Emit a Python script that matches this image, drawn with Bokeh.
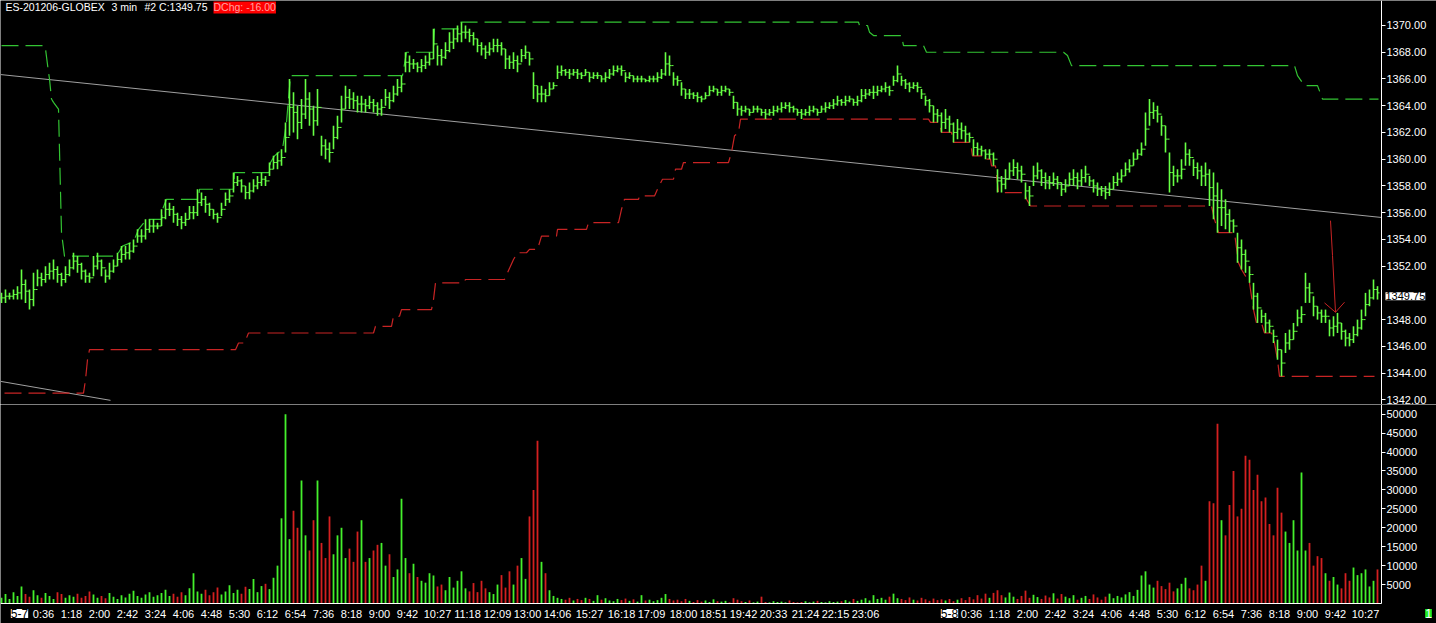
from bokeh.plotting import figure
from bokeh.layouts import column
from bokeh.models import ColumnDataSource, FixedTicker, Label, Range1d, NumeralTickFormatter
from bokeh.embed import file_html
from bokeh.resources import INLINE

# ---------------- data ----------------
# one sample for every second 3-minute bar
bar_index = list(range(0, 690, 2))

bar_high = [
    1350.0, 1350.25, 1350.0, 1350.25, 1350.5, 1351.75, 1351.0, 1350.25, 1351.5, 1351.75,
    1351.5, 1352.0, 1352.25, 1352.5, 1352.0, 1351.5, 1352.0, 1352.5, 1353.0, 1352.75,
    1352.25, 1351.75, 1351.5, 1352.75, 1353.0, 1352.5, 1351.75, 1352.25, 1352.5, 1353.0,
    1353.5, 1353.5, 1353.75, 1354.0, 1354.75, 1354.75, 1355.5, 1355.5, 1355.5, 1355.25,
    1356.25, 1357.0, 1356.75, 1356.5, 1356.0, 1355.75, 1356.0, 1356.5, 1356.5, 1357.75,
    1357.5, 1357.25, 1356.75, 1356.25, 1356.0, 1356.75, 1357.5, 1357.75, 1359.0, 1358.75,
    1358.5, 1358.0, 1358.25, 1358.5, 1358.75, 1359.0, 1358.75, 1359.75, 1360.25, 1360.5,
    1360.75, 1362.75, 1366.0, 1365.0, 1364.0, 1364.5, 1366.0, 1365.0, 1364.0, 1365.25,
    1361.75, 1361.5, 1361.25, 1362.5, 1363.25, 1364.75, 1365.5, 1365.25, 1365.0, 1364.75,
    1364.75, 1364.5, 1364.75, 1364.5, 1364.25, 1364.5, 1365.25, 1365.0, 1365.5, 1366.0,
    1366.25, 1368.0, 1367.75, 1367.5, 1367.25, 1367.5, 1367.75, 1368.0, 1369.75, 1368.5,
    1368.25, 1368.75, 1369.5, 1369.75, 1370.0, 1370.25, 1370.0, 1369.75, 1369.5, 1369.0,
    1368.75, 1368.5, 1368.75, 1369.0, 1369.0, 1368.75, 1368.25, 1367.75, 1368.0, 1367.75,
    1368.25, 1368.5, 1368.0, 1366.5, 1365.5, 1365.5, 1365.25, 1365.75, 1365.75, 1367.0,
    1367.0, 1366.75, 1366.75, 1366.75, 1366.75, 1366.5, 1366.75, 1366.5, 1366.5, 1366.5,
    1366.25, 1366.5, 1366.75, 1367.0, 1367.0, 1367.0, 1366.5, 1366.5, 1366.25, 1366.25,
    1366.25, 1366.0, 1366.25, 1366.25, 1366.5, 1366.75, 1368.0, 1367.75, 1366.5, 1366.25,
    1365.75, 1365.25, 1365.25, 1365.0, 1365.0, 1364.75, 1365.0, 1365.5, 1365.5, 1365.25,
    1365.5, 1365.5, 1365.25, 1364.75, 1364.25, 1364.0, 1364.0, 1363.75, 1364.0, 1364.0,
    1363.75, 1363.75, 1363.75, 1364.0, 1364.0, 1364.25, 1364.25, 1364.25, 1364.0, 1363.75,
    1363.75, 1363.75, 1364.0, 1364.0, 1363.75, 1364.0, 1364.25, 1364.25, 1364.5, 1364.75,
    1364.5, 1364.75, 1364.75, 1364.5, 1364.75, 1365.25, 1365.25, 1365.25, 1365.5, 1365.5,
    1365.5, 1365.75, 1365.5, 1366.25, 1367.0, 1366.25, 1366.0, 1365.75, 1365.75, 1365.75,
    1365.25, 1364.75, 1364.5, 1364.0, 1363.75, 1363.5, 1363.75, 1363.25, 1362.75, 1363.0,
    1362.75, 1362.5, 1362.0, 1361.5, 1361.25, 1361.0, 1360.75, 1360.75, 1360.5, 1359.25,
    1358.75, 1359.25, 1359.75, 1360.0, 1359.75, 1359.5, 1358.25, 1358.0, 1359.5, 1359.75,
    1359.25, 1359.0, 1358.75, 1359.0, 1358.75, 1358.25, 1358.5, 1359.0, 1359.25, 1359.0,
    1359.25, 1359.5, 1358.75, 1358.5, 1358.25, 1358.0, 1358.0, 1358.25, 1358.75, 1359.0,
    1359.25, 1359.75, 1360.0, 1360.5, 1360.75, 1361.25, 1363.5, 1364.5, 1364.25, 1364.0,
    1363.25, 1362.5, 1360.5, 1359.5, 1359.25, 1360.0, 1361.25, 1360.75, 1360.0, 1359.75,
    1359.5, 1359.75, 1359.25, 1359.0, 1358.25, 1357.75, 1357.0, 1356.25, 1355.5, 1354.5,
    1354.0, 1353.25, 1352.0, 1350.75, 1350.0, 1348.75, 1348.5, 1348.0, 1347.25, 1346.5,
    1345.75, 1347.0, 1347.25, 1347.75, 1348.75, 1349.0, 1351.5, 1350.75, 1349.75, 1349.0,
    1348.75, 1348.75, 1348.0, 1348.25, 1348.5, 1347.75, 1347.25, 1347.0, 1347.5, 1348.0,
    1348.75, 1350.0, 1350.25, 1351.0, 1350.5,
]

bar_low = [
    1349.25, 1349.25, 1349.5, 1349.5, 1349.5, 1349.5, 1349.25, 1348.75, 1349.0, 1350.5,
    1350.5, 1350.75, 1351.0, 1351.0, 1350.75, 1350.5, 1350.75, 1351.25, 1351.75, 1351.5,
    1351.0, 1350.75, 1350.75, 1351.25, 1351.75, 1351.25, 1350.75, 1351.0, 1351.5, 1352.0,
    1352.25, 1352.5, 1352.5, 1353.0, 1353.75, 1353.75, 1354.0, 1354.5, 1354.5, 1354.75,
    1355.0, 1355.5, 1355.75, 1355.25, 1355.0, 1354.75, 1355.0, 1355.5, 1355.5, 1355.75,
    1356.5, 1356.0, 1355.75, 1355.5, 1355.25, 1355.75, 1356.5, 1356.75, 1357.5, 1358.0,
    1357.5, 1357.0, 1357.0, 1357.5, 1357.75, 1358.0, 1358.0, 1358.75, 1359.25, 1359.25,
    1359.5, 1360.5, 1361.75, 1362.0, 1361.5, 1362.25, 1363.0, 1362.5, 1361.75, 1362.5,
    1360.25, 1360.0, 1359.75, 1360.75, 1361.5, 1362.75, 1363.75, 1363.75, 1363.75, 1363.5,
    1363.5, 1363.5, 1363.75, 1363.5, 1363.25, 1363.25, 1364.0, 1363.75, 1364.25, 1364.75,
    1365.0, 1366.5, 1366.5, 1366.75, 1366.5, 1366.5, 1366.75, 1367.0, 1367.5, 1367.0,
    1367.0, 1367.5, 1368.0, 1368.25, 1368.75, 1368.75, 1369.0, 1368.75, 1368.5, 1368.0,
    1367.75, 1367.5, 1367.75, 1368.0, 1368.0, 1367.75, 1366.75, 1366.75, 1366.75, 1366.5,
    1367.25, 1367.5, 1367.0, 1364.5, 1364.25, 1364.25, 1364.25, 1364.75, 1365.25, 1366.0,
    1366.25, 1366.25, 1366.0, 1366.25, 1366.0, 1366.0, 1366.25, 1365.75, 1366.0, 1366.0,
    1365.75, 1365.75, 1366.0, 1366.25, 1366.5, 1366.25, 1365.75, 1366.0, 1365.75, 1365.75,
    1365.75, 1365.75, 1365.75, 1365.75, 1365.75, 1366.0, 1366.25, 1366.25, 1365.5, 1365.5,
    1364.75, 1364.5, 1364.5, 1364.5, 1364.25, 1364.25, 1364.5, 1364.75, 1365.0, 1364.75,
    1364.75, 1365.0, 1364.75, 1363.75, 1363.25, 1363.25, 1363.5, 1363.25, 1363.5, 1363.5,
    1363.25, 1363.0, 1363.25, 1363.25, 1363.5, 1363.5, 1363.75, 1363.5, 1363.5, 1363.25,
    1363.0, 1363.25, 1363.25, 1363.5, 1363.25, 1363.5, 1363.5, 1363.75, 1363.75, 1364.0,
    1364.0, 1364.0, 1364.25, 1364.0, 1364.0, 1364.25, 1364.5, 1364.75, 1364.5, 1364.75,
    1365.0, 1365.0, 1364.75, 1365.5, 1365.75, 1365.5, 1365.25, 1365.0, 1365.25, 1365.0,
    1364.5, 1364.0, 1363.5, 1362.75, 1362.75, 1362.0, 1362.25, 1362.0, 1361.25, 1361.5,
    1361.5, 1361.25, 1361.25, 1360.25, 1360.25, 1360.25, 1360.0, 1360.0, 1359.5, 1357.5,
    1357.5, 1357.75, 1358.5, 1358.75, 1358.5, 1358.25, 1357.0, 1356.5, 1358.0, 1358.5,
    1358.0, 1357.75, 1357.75, 1358.0, 1357.75, 1357.25, 1357.5, 1358.0, 1358.0, 1357.75,
    1358.0, 1358.25, 1358.0, 1357.5, 1357.25, 1357.25, 1357.0, 1357.25, 1357.75, 1358.0,
    1358.25, 1358.75, 1359.0, 1359.5, 1360.0, 1360.25, 1361.0, 1362.5, 1363.0, 1362.75,
    1361.75, 1360.5, 1357.5, 1358.0, 1358.25, 1358.5, 1359.5, 1359.5, 1358.75, 1358.5,
    1358.0, 1358.0, 1356.5, 1355.5, 1354.5, 1355.0, 1354.75, 1354.5, 1354.5, 1352.25,
    1351.75, 1351.5, 1350.75, 1348.75, 1347.75, 1347.75, 1347.0, 1347.0, 1346.25, 1345.0,
    1343.75, 1345.5, 1345.75, 1346.5, 1347.5, 1347.75, 1349.25, 1349.25, 1348.25, 1348.0,
    1347.75, 1347.75, 1346.75, 1346.75, 1347.0, 1346.5, 1346.0, 1346.0, 1346.25, 1346.75,
    1347.25, 1348.25, 1349.0, 1349.5, 1349.5,
]

bar_volume = [
    1500, 2500, 1200, 3000, 2000, 4500, 2500, 1800, 3500, 2200,
    1500, 2800, 2000, 1200, 3000, 2500, 1500, 2200, 1800, 2600,
    1500, 2000, 3200, 2400, 1500, 2000, 1400, 2800, 1800, 1200,
    2200, 1600, 2600, 3400, 2000, 1500, 2400, 3000, 1800, 2200,
    2800, 3600, 2000, 2600, 1800, 3000, 2200, 4000, 8000, 3200,
    2600, 3600, 2200, 3000, 4200, 2400, 3200, 4800, 2800, 3600,
    2600, 4400, 3800, 6500, 3000, 4600, 5200, 3800, 6800, 10000,
    22500, 50000, 17000, 24500, 20000, 32500, 18000, 14000, 22000, 32500,
    16000, 12000, 23000, 13000, 18000, 20000, 12000, 14500, 11000, 19000,
    22000, 11000, 12000, 14000, 15500, 16000, 10000, 13000, 7000, 9000,
    27700, 12000, 8000, 10500, 7000, 6000, 5500, 8000, 7400, 4500,
    5000, 3500, 7000, 4200, 6000, 8500, 4000, 3200, 5400, 3000,
    6000, 4000, 3000, 2500, 5000, 7500, 4200, 8500, 5000, 10000,
    12000, 6500, 23000, 30000, 43000, 11000, 8000, 3500, 2000, 1500,
    1200, 1000, 1500, 800, 1200, 900, 1500, 1200, 700, 2200,
    1000, 1400, 800, 600, 1200, 900, 1300, 700, 1100, 500,
    2200, 800, 1000, 600, 900, 1500, 2500, 1200, 800, 1000,
    600, 1200, 700, 400, 900, 500, 800, 400, 1100, 600,
    500, 700, 300, 1400, 1000, 600, 400, 800, 300, 500,
    1800, 400, 300, 600, 400, 500, 300, 800, 400, 300,
    400, 600, 300, 500, 700, 400, 300, 600, 400, 500,
    600, 900, 500, 1200, 700, 1000, 1400, 800, 2200, 1200,
    1500, 1000, 1800, 2600, 1400, 1200, 900, 1600, 1000, 800,
    1500, 1100, 700, 1300, 900, 1100, 800, 1200, 600, 1000,
    1400, 900, 1700, 1100, 2200, 1300, 2600, 1500, 2800, 3500,
    2200, 1600, 2900, 1800, 1200, 2000, 3400, 1500, 2300, 1700,
    1200, 2100, 1600, 2700, 1300, 2500, 1800, 1400, 2200, 1000,
    1500, 2000, 1200, 2400, 1600, 1000, 1800, 2600, 1400, 2000,
    1600, 2400, 3000, 2000, 3600, 7400, 8500, 5000, 4200, 6000,
    4600, 3800, 5500, 3200, 4000, 5200, 6800, 4000, 3500, 5000,
    10000, 6000, 27000, 26500, 47500, 22000, 18000, 26000, 35000, 23000,
    25000, 39000, 38000, 30000, 34000, 27000, 28000, 21000, 18000, 30600,
    24000, 19000, 16000, 22000, 14000, 34600, 14000, 16000, 10000, 12500,
    12000, 8000, 6000, 7000, 5000, 4000, 8000, 6000, 9500, 7500,
    8000, 9000, 4500, 6000, 9000,
]

# highest-high channel (green dashed)
upper_x = [0, 21.5, 22, 23.5, 24, 25, 26, 28.5, 30, 31.5, 57.5, 58.5, 60.5, 64.5, 66.5,
           68.5, 72.5, 80, 80.5, 82.5, 98.5, 99, 116, 116.5, 133.5, 134.5, 136.5, 138.5,
           140.5, 142.5, 144.5, 200.5, 202.5, 216, 216.5, 228.5, 229.5, 428.5, 429, 433,
           434, 436, 450, 451, 461, 462.5, 531, 533, 535, 646.5, 648, 651.5, 658, 660.5,
           688.5]
upper_y = [1368.5, 1368.5, 1368.25, 1366.5, 1366.0, 1364.5, 1364.25, 1363.75, 1354.5,
           1352.75, 1352.75, 1353.0, 1353.5, 1353.75, 1354.0, 1354.75, 1355.5, 1355.5,
           1356.25, 1357.0, 1357.0, 1357.75, 1357.75, 1359.0, 1359.0, 1359.75, 1360.25,
           1360.5, 1360.75, 1362.75, 1366.25, 1366.25, 1368.0, 1368.0, 1369.75, 1369.75,
           1370.25, 1370.25, 1370.0, 1370.0, 1369.5, 1369.25, 1369.25, 1368.5, 1368.5,
           1368.0, 1368.0, 1367.75, 1367.0, 1367.0, 1366.25, 1365.5, 1365.5, 1364.5,
           1364.5]

# lowest-low channel (red dashed)
lower_x = [1.5, 41, 42, 43, 44, 117, 118.5, 121.5, 123.5, 186, 187, 195, 196, 199, 200,
           215, 216, 217, 231, 232, 251.5, 253, 256, 258, 262.5, 264, 268, 270, 277.5,
           278, 292.5, 293.5, 308.5, 310, 311.5, 318.5, 319, 326.5, 328, 330.5, 336, 337,
           340, 341, 363.5, 365, 366.5, 368.5, 369.5, 463.5, 464.5, 469, 470, 475, 476,
           484.5, 485.5, 491, 491.5, 494.5, 495, 497, 498.5, 511.5, 512.5, 514.5, 605,
           606.5, 608.5, 616.5, 618.5, 620, 624, 626, 627.5, 630, 631.5, 635, 636.5, 638,
           639, 686.5]
lower_y = [1342.5, 1342.5, 1343.5, 1345.0, 1345.75, 1345.75, 1346.25, 1346.25, 1347.0,
           1347.0, 1347.5, 1347.5, 1348.25, 1348.25, 1348.75, 1348.75, 1349.5, 1350.75,
           1350.75, 1351.0, 1351.0, 1351.5, 1352.5, 1353.0, 1353.0, 1353.25, 1353.25,
           1354.25, 1354.25, 1354.75, 1354.75, 1355.25, 1355.25, 1356.25, 1357.0, 1357.0,
           1357.25, 1357.25, 1357.75, 1358.5, 1358.5, 1359.25, 1359.25, 1359.75, 1359.75,
           1360.5, 1361.75, 1362.0, 1363.0, 1363.0, 1362.75, 1362.75, 1362.0, 1362.0,
           1361.25, 1361.25, 1360.25, 1360.25, 1360.0, 1360.0, 1359.5, 1359.5, 1357.5,
           1357.5, 1357.0, 1356.5, 1356.5, 1355.5, 1354.5, 1354.5, 1352.25, 1351.75,
           1350.75, 1348.75, 1347.75, 1347.75, 1347.0, 1347.0, 1346.25, 1345.0, 1343.75,
           1343.75]

# drawn trend lines and arrow
trend_x = [-0.5, 690.0]
trend_y = [1366.33, 1355.64]
trend2_x = [-0.5, 54.5]
trend2_y = [1343.38, 1341.96]
arrow_x = [664.5, 665.5, 667.0]
arrow_y = [1355.4, 1352.8, 1348.55]
arrow_head_x = [661.5, 667.0, 671.5]
arrow_head_y = [1349.25, 1348.55, 1349.3]

price_ticks = [1342, 1344, 1346, 1348, 1352, 1354, 1356, 1358, 1360, 1362,
               1364, 1366, 1368, 1370]
volume_ticks = [5000, 10000, 15000, 20000, 25000, 30000, 35000, 40000, 45000, 50000]
time_ticks = [9, 21, 35, 49, 63, 77, 91, 105, 119, 133, 147, 161, 175, 189, 203, 218,
              233, 248, 263, 278, 294, 310, 325, 341, 356, 371, 386, 402, 417, 432, 474,
              485, 499, 513, 527, 541, 555, 569, 583, 597, 611, 625, 639, 653, 667, 682]
time_labels = ["5-7", "0:36", "1:18", "2:00", "2:42", "3:24", "4:06", "4:48", "5:30",
               "6:12", "6:54", "7:36", "8:18", "9:00", "9:42", "10:27", "11:18", "12:09",
               "13:00", "14:06", "15:27", "16:18", "17:09", "18:00", "18:51", "19:42",
               "20:33", "21:24", "22:15", "23:06", "5-8", "0:36", "1:18", "2:00", "2:42",
               "3:24", "4:06", "4:48", "5:30", "6:12", "6:54", "7:36", "8:18", "9:00",
               "9:42", "10:27"]
last_close = 1349.75

# ---------------- styling ----------------
GREEN = "#66ff44"
UP_VOL = "#44f02c"
DN_VOL = "#d42020"
CH_GREEN = "#33c433"
CH_RED = "#c82424"
GRAY = "#a0a0a0"
FONT = "Liberation Sans"
X0 = -0.5            # left edge of the plot (bar units, 2 px per bar)
XAX = 690.0          # position of the price/volume axis line
X1 = X0 + 1436 / 2   # right edge of the canvas

mid = [(h + l) / 2 for h, l in zip(bar_high, bar_low)]
opn = [mid[0]] + mid[:-1]
src = ColumnDataSource(dict(
    x=bar_index, high=bar_high, low=bar_low, open=opn, close=mid,
    xl=[b - 1 for b in bar_index], xr=[b + 1 for b in bar_index],
    vol=bar_volume,
    vcolor=[UP_VOL if c >= o else DN_VOL for c, o in zip(mid, opn)],
))

xr = Range1d(X0, X1)


def style_axis(ax, size="11px"):
    ax.axis_line_color = "white"
    ax.major_tick_line_color = "white"
    ax.minor_tick_line_color = None
    ax.major_label_text_color = "white"
    ax.major_label_text_font = FONT
    ax.major_label_text_font_size = size


# ---------------- price panel ----------------
p1 = figure(frame_width=1436, frame_height=404, x_range=xr,
            y_range=Range1d(1341.65, 1371.87), output_backend="svg",
            toolbar_location=None, y_axis_location="right", x_axis_location=None,
            background_fill_color="black", border_fill_color="black",
            min_border=0, outline_line_color=None)
p1.grid.visible = False
ay = p1.yaxis[0]
style_axis(ay)
ay.fixed_location = XAX
ay.ticker = FixedTicker(ticks=price_ticks)
ay.formatter = NumeralTickFormatter(format="0.00")
ay.major_tick_out = 4
ay.major_tick_in = 0
ay.major_label_standoff = 1

p1.line(trend_x, trend_y, line_color=GRAY, line_width=1)
p1.line(trend2_x, trend2_y, line_color=GRAY, line_width=1)
p1.line(upper_x, upper_y, line_color=CH_GREEN, line_width=1.2, line_dash="17 7")
p1.line(lower_x, lower_y, line_color=CH_RED, line_width=1.2, line_dash="17 7")
p1.segment(x0="x", y0="low", x1="x", y1="high", source=src, line_color=GREEN, line_width=1.6)
p1.segment(x0="xl", y0="open", x1="x", y1="open", source=src, line_color=GREEN, line_width=1)
p1.segment(x0="x", y0="close", x1="xr", y1="close", source=src, line_color=GREEN, line_width=1)
p1.line(arrow_x, arrow_y, line_color=CH_RED, line_width=1)
p1.line(arrow_head_x, arrow_head_y, line_color=CH_RED, line_width=1)

hdr_y = 1371.35
for txt, off in [("ES-201206-GLOBEX", 5), ("3 min", 111), ("#2 C:1349.75", 144)]:
    p1.add_layout(Label(x=X0, y=hdr_y, x_offset=off, text=txt, text_color="white",
                        text_font=FONT, text_font_size="10.5px", text_baseline="middle"))
p1.add_layout(Label(x=X0, y=hdr_y, x_offset=213, text="DChg: -16.00",
                    text_color="#ffa0a0", text_font=FONT, text_font_size="10.5px",
                    text_baseline="middle", background_fill_color="#ff0000"))
p1.add_layout(Label(x=XAX, y=last_close, x_offset=4, text="%.2f" % last_close,
                    text_color="black", text_font=FONT, text_font_size="11px",
                    text_baseline="middle", background_fill_color="white"))

# ---------------- volume panel ----------------
VSCALE = 5000 / 18.93   # volume units per pixel
p2 = figure(frame_width=1436, frame_height=219, x_range=xr,
            y_range=Range1d(-20 * VSCALE, 199 * VSCALE), output_backend="svg",
            toolbar_location=None, y_axis_location="right", x_axis_location="below",
            background_fill_color="black", border_fill_color="black",
            min_border=0, outline_line_color=None)
p2.grid.visible = False
p2.vbar(x="x", top="vol", bottom=0, width=0.9, source=src, fill_color="vcolor",
        line_color=None)
av = p2.yaxis[0]
style_axis(av)
av.fixed_location = XAX
av.bounds = (0, 199 * VSCALE)
av.ticker = FixedTicker(ticks=volume_ticks)
av.formatter = NumeralTickFormatter(format="0")
av.major_tick_out = 4
av.major_tick_in = 0
av.major_label_standoff = 1

axx = p2.xaxis[0]
style_axis(axx, "11px")
axx.fixed_location = 0
axx.bounds = (X0, XAX)
axx.ticker = FixedTicker(ticks=time_ticks)
axx.major_label_overrides = {t: ("" if "-" in l else l) for t, l in zip(time_ticks, time_labels)}
axx.major_tick_out = 0
axx.major_tick_in = 0
axx.major_label_standoff = 4

for t, l in zip(time_ticks, time_labels):
    if "-" in l:
        p2.add_layout(Label(x=t, y=0, y_offset=-10, text=l, text_color="black",
                            text_font=FONT, text_font_size="12px", text_align="center",
                            text_baseline="middle", background_fill_color="white"))
p2.add_layout(Label(x=XAX, y=0, x_offset=47, y_offset=-10, text="1", text_color="white",
                    text_font=FONT, text_font_size="12px", text_align="center",
                    text_baseline="middle", background_fill_color="#22ee22"))

layout = column(p1, p2, spacing=0)
html = file_html(layout, INLINE, title="ES-201206-GLOBEX 3 min")
html = html.replace("<body>", '<body style="margin:0;background-color:#000000;overflow:hidden;">', 1)
open("out.html", "w").write(html)
